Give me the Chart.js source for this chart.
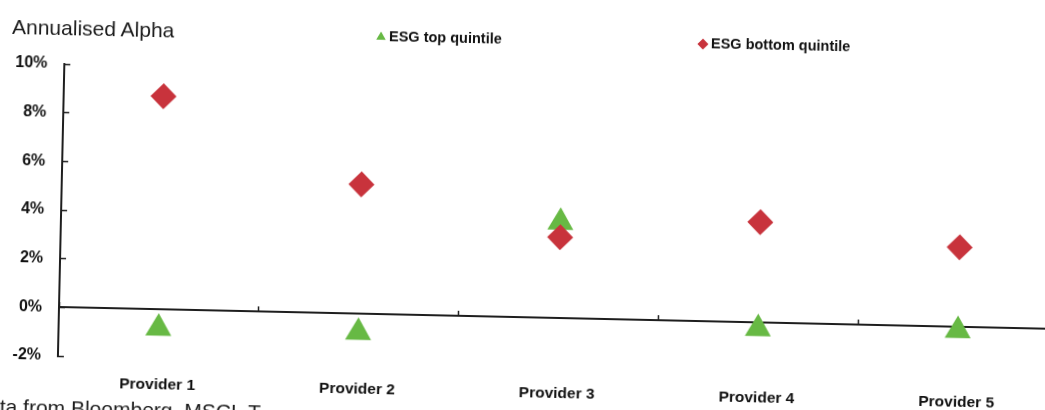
<!DOCTYPE html>
<html>
<head>
<meta charset="utf-8">
<script src="https://cdn.jsdelivr.net/npm/chart.js@4.4.1/dist/chart.umd.min.js"></script>
<style>
  html, body { margin: 0; padding: 0; background: #fff; overflow: hidden; width: 1045px; height: 410px; }
  /* the scan is turned a little clockwise, so the whole sheet is too */
  #sheet { position: absolute; left: 0; top: 0; width: 1073px; height: 410px;
           transform: rotate(1.26deg); transform-origin: 59px 307px; }
  #graph { position: absolute; left: 0; top: 0; }
  #title { position: absolute; left: 6px; top: 16px; color: #1b1b1b;
           font: 21px "Liberation Sans", Arial, sans-serif; white-space: nowrap; }
  #foot { position: absolute; left: 2px; top: 396px; color: #1b1b1b;
          font: 21px "Liberation Sans", Arial, sans-serif; white-space: nowrap; }
</style>
</head>
<body>
<div id="sheet">
  <canvas id="graph" width="1073" height="410"></canvas>
  <div id="title">Annualised Alpha</div>
  <div id="foot">ta from Bloomberg, MSCI, T</div>
</div>
<script>
// values (already corrected for the tilt)
const providers = ["Provider 1", "Provider 2", "Provider 3", "Provider 4", "Provider 5"];
const esgTop = [-0.77, -0.76, 3.95, -0.24, -0.14];
const esgBottom = [8.77, 5.33, 3.33, 4.13, 3.28];
const yTicks = [-2, 0, 2, 4, 6, 8, 10];

const face = '"Liberation Sans", Arial, sans-serif';
const legendSpots = [{x: 375, y: 30}, {x: 697, y: 30}]; // where the legend items sit

// legend drawn at fixed spots, the way the excel one floats
const spotLegend = {
  id: 'spotLegend',
  afterDraw(chart) {
    const ctx = chart.ctx;
    chart.data.datasets.forEach((ds, i) => {
      const p = legendSpots[i];
      ctx.save();
      ctx.fillStyle = ds.backgroundColor;
      Chart.helpers.drawPoint(ctx, {pointStyle: ds.pointStyle, radius: 5.5, borderWidth: 0, rotation: 0}, p.x, p.y);
      ctx.fillStyle = '#111';
      ctx.font = 'bold 14.5px ' + face;
      ctx.textBaseline = 'middle';
      ctx.fillText(ds.label, p.x + 8, p.y);
      ctx.restore();
    });
  }
};

new Chart(document.getElementById('graph'), {
  type: 'line',
  data: {
    labels: providers,
    datasets: [{
      label: 'ESG top quintile',
      data: esgTop,
      showLine: false,
      pointStyle: 'triangle',
      pointRadius: 15,
      backgroundColor: '#67b944',
      borderColor: '#67b944',
      pointBorderWidth: 0,
      order: 2
    }, {
      label: 'ESG bottom quintile',
      data: esgBottom,
      showLine: false,
      pointStyle: 'rectRot',
      pointRadius: 13,
      backgroundColor: '#c8333c',
      borderColor: '#c8333c',
      pointBorderWidth: 0,
      order: 1
    }]
  },
  options: {
    responsive: false,
    devicePixelRatio: 1,
    animation: false,
    layout: { padding: { left: 0, top: 64, right: 6, bottom: 0 } },
    scales: {
      x: {
        offset: true,
        afterFit: s => { s.height = 54; },
        grid: { display: false, drawTicks: false },
        border: { display: false },
        ticks: { padding: 17, color: '#111', font: { family: face, size: 15.5, weight: 'bold' } }
      },
      x2: {
        axis: 'x',
        type: 'category',
        position: { y: 0 },
        offset: true,
        ticks: { display: false },
        grid: { offset: true, drawOnChartArea: false, tickLength: -6, tickColor: '#1e1e1e', tickWidth: 1.5 },
        border: { color: '#1e1e1e', width: 2 }
      },
      y: {
        min: yTicks[0],
        max: yTicks[yTicks.length - 1],
        afterBuildTicks: s => { s.ticks = yTicks.map(v => ({ value: v })); },
        afterFit: s => { s.width = 59; },
        ticks: { padding: 23, color: '#111', callback: v => v + '%',
                 font: { family: face, size: 16, weight: 'bold' } },
        grid: { drawOnChartArea: false, tickLength: -6, tickColor: '#1e1e1e', tickWidth: 1.5 },
        border: { color: '#1e1e1e', width: 2 }
      }
    },
    plugins: {
      legend: { display: false },
      tooltip: { enabled: false }
    }
  },
  plugins: [spotLegend]
});
</script>
</body>
</html>
